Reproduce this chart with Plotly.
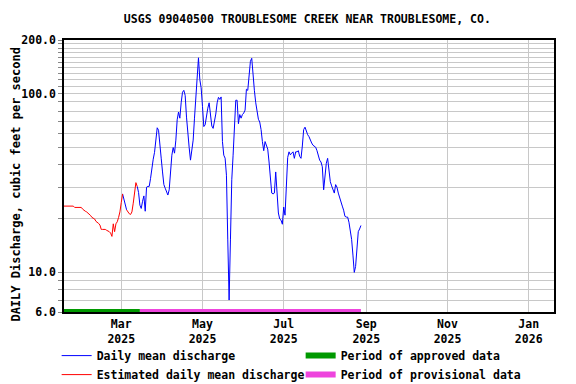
import plotly.graph_objects as go
import pandas as pd
import numpy as np

# ---------------- data ----------------
start_date = "2025-01-17"
# daily mean discharge, cfs, from 2025-01-17 onward
discharge = [
    23.5, 23.5, 23.5, 23.5, 23.5, 23.5, 23.5, 23.5,
    23.1, 23.1, 23.1, 23.1, 23.1, 23.1,
    22.6, 22.2, 22.0, 21.8, 21.5, 21.2, 20.8, 20.3, 20.1, 19.9, 19.3, 19.1, 18.8, 18.4,
    17.4, 17.4, 17.4, 17.4, 17.2, 17.1, 16.9, 16.6, 15.9,
    18.7, 16.9, 18.7, 19.2, 20.3, 21.8, 24.6,
    27.5, 25.5, 23.3, 22.4, 21.8, 21.3, 21.1, 21.8, 24.4, 29.0, 31.8, 30.3,
    28.0, 23.8, 22.8, 25.0, 26.8, 22.0, 30.0,
    30.3, 30.3, 33.6, 39.0, 43.0, 47.0, 55.0,
    64.5, 62.5, 54.0, 43.6, 36.5, 31.0, 29.6, 28.5, 27.1, 29.0,
    37.4, 45.3, 50.0, 46.5, 55.0, 71.5, 79.0, 73.0, 89.0, 102.0,
    104.5, 98.0, 74.0, 58.5, 50.0, 42.5, 48.0, 55.0, 73.0, 96.0,
    136, 159, 120, 108, 85, 65.5, 67, 76.5, 83, 89,
    73, 66, 64, 70, 77, 89, 95.5, 93, 96, 54,
    45.3, 43.6, 35, 15.2, 7.0, 15.2, 33, 45.3, 63, 92,
    92, 68, 76.5, 73, 76.5, 78, 81, 106, 104.5, 130,
    152, 158, 119, 104, 89, 79, 72, 69.5, 63, 54,
    48, 54, 52, 49, 41.5, 34.2, 27.8, 27.5, 27.8, 36.5,
    26.8, 21.5, 19.9, 19.6, 18.6, 23.2, 20.9, 31, 44, 47.3,
    45.5, 46.5, 47.3, 43.5, 47.3, 47.3, 48, 44.6, 43.5, 51,
    63, 65, 61, 59, 57.5, 54.5, 53, 51.5, 50.5, 50.2,
    48, 44.1, 42.5, 41.5, 39, 29, 35, 40.8, 43.5, 36.5,
    32.2, 30.5, 29, 27.8, 31, 30, 27.8, 26.5, 24.7, 23.5,
    22.3, 20.6, 20.4, 20.4, 19.1, 17.5, 15.3, 12.5, 10.0, 10.8,
    14.6, 16.9, 17.5, 18.3,
]
# estimated-value periods (inclusive)
estimated_periods = [("2025-01-17", "2025-03-02"), ("2025-03-05", "2025-03-13")]
approved_period = ["2025-01-17", "2025-03-15"]
provisional_period = ["2025-03-15", "2025-08-28"]
axis_floor = [6.0, 6.0]

x_tick_dates = ["2025-03-01", "2025-05-01", "2025-07-01", "2025-09-01", "2025-11-01", "2026-01-01"]
x_tick_labels = ["Mar<br>2025", "May<br>2025", "Jul<br>2025", "Sep<br>2025", "Nov<br>2025", "Jan<br>2026"]
y_tick_vals = [6, 7, 8, 9, 10, 20, 30, 40, 50, 60, 70, 80, 90, 100,
               110, 120, 130, 140, 150, 160, 170, 180, 190, 200]
y_labeled = {6: "6.0", 10: "10.0", 100: "100.0", 200: "200.0"}
y_tick_text = [y_labeled.get(v, "") for v in y_tick_vals]

title = "USGS 09040500 TROUBLESOME CREEK NEAR TROUBLESOME, CO."
y_title = "DAILY Discharge, cubic feet per second"

# ---------------- build ----------------
dates = pd.date_range(start_date, periods=len(discharge), freq="D")
vals = np.array(discharge, dtype=float)
est = np.zeros(len(vals), dtype=bool)
for a, b in estimated_periods:
    est |= (dates >= pd.Timestamp(a)) & (dates <= pd.Timestamp(b))

red = np.where(est, vals, np.nan)
blue_mask = ~est.copy()
# include estimated days adjacent to measured days so the line is continuous
adj = np.zeros_like(blue_mask)
adj[:-1] |= blue_mask[1:]
adj[1:] |= blue_mask[:-1]
blue = np.where(blue_mask | adj, vals, np.nan)

FONT = dict(family="DejaVu Sans Mono", size=11.5, color="black", weight="bold")

fig = go.Figure()
fig.add_trace(go.Scatter(x=dates, y=blue, mode="lines", name="Daily mean discharge",
                         line=dict(color="#0000ff", width=1), connectgaps=False, legendrank=1))
fig.add_trace(go.Scatter(x=dates, y=red, mode="lines", name="Estimated daily mean discharge",
                         line=dict(color="#ff0000", width=1), connectgaps=False, legendrank=3))
fig.add_trace(go.Scatter(x=approved_period, y=axis_floor, mode="lines", name="Period of approved data",
                         line=dict(color="#009900", width=6), legendrank=2))
fig.add_trace(go.Scatter(x=provisional_period, y=axis_floor, mode="lines", name="Period of provisional data",
                         line=dict(color="#ee44dd", width=6), legendrank=4))

# the page body has an 8px margin, so the figure is sized to sit inside the window
fig.update_layout(
    width=568, height=376,
    margin=dict(l=56, r=22, t=32, b=72, autoexpand=False),
    paper_bgcolor="white", plot_bgcolor="white",
    font=FONT,
    title=dict(text=title, x=0.527, xanchor="center", y=0.971, yanchor="middle", yref="container",
               font=FONT),
    showlegend=True,
    legend=dict(orientation="h", x=-0.015, xanchor="left", y=-0.107, yanchor="top",
                font=FONT, itemwidth=30, entrywidth=199, entrywidthmode="pixels",
                tracegroupgap=0, bgcolor="rgba(0,0,0,0)"),
    annotations=[dict(text=y_title, textangle=-90, xref="paper", yref="paper",
                      x=-0.098, y=0.472, xanchor="center", yanchor="middle",
                      showarrow=False, font=dict(FONT, size=12))],
)
fig.update_xaxes(
    type="date", range=["2025-01-17", "2026-01-20"],
    tickvals=x_tick_dates, ticktext=x_tick_labels, tickfont=FONT,
    showgrid=True, gridcolor="#c8c8c8", gridwidth=1,
    showline=True, linecolor="black", linewidth=1.5, mirror=True,
    ticks="", zeroline=False,
)
fig.update_yaxes(
    type="log", range=[np.log10(6), np.log10(200)],
    tickvals=y_tick_vals, ticktext=y_tick_text, tickfont=FONT,
    showgrid=True, gridcolor="#c8c8c8", gridwidth=1,
    showline=True, linecolor="black", linewidth=1.5, mirror=True,
    ticks="outside", ticklen=4, tickcolor="#888888",
    automargin=False, zeroline=False,
)

fig.write_html("out.html")
